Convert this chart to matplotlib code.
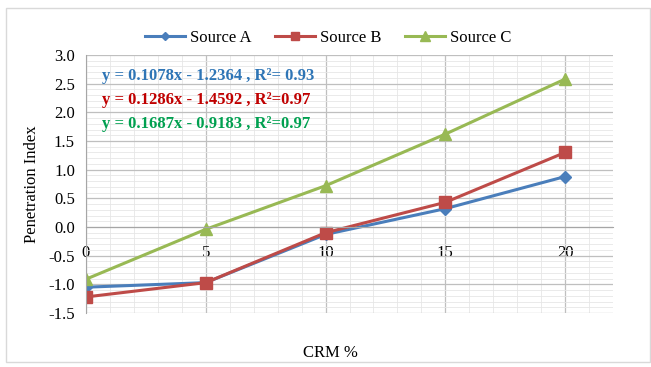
import matplotlib
matplotlib.use("Agg")
import matplotlib.pyplot as plt
from matplotlib.ticker import MultipleLocator
from matplotlib.patches import Rectangle

plt.rcParams['font.family'] = ['Liberation Serif', 'DejaVu Serif']

crm = [0, 5, 10, 15, 20]
source_a = [-1.05, -0.97, -0.13, 0.32, 0.88]
source_b = [-1.22, -0.97, -0.10, 0.43, 1.30]
source_c = [-0.91, -0.04, 0.72, 1.62, 2.58]
series_names = ["Source A", "Source B", "Source C"]
equations = ["y = 0.1078x - 1.2364 , R\u00b2= 0.93",
             "y = 0.1286x - 1.4592 , R\u00b2=0.97",
             "y = 0.1687x - 0.9183 , R\u00b2=0.97"]
y_ticks = [-1.5, -1.0, -0.5, 0.0, 0.5, 1.0, 1.5, 2.0, 2.5, 3.0]
x_ticks = [0, 5, 10, 15, 20]

fig = plt.figure(figsize=(6.51, 3.67), dpi=100)
fig.patches.append(Rectangle((6/651, 1-362/367), 644/651, (362-8)/367,
                             transform=fig.transFigure, fill=False,
                             edgecolor='#d9d9d9', linewidth=1))
ax = fig.add_axes([86/651, 1-313/367, (613-86)/651, (313-55)/367])

ax.set_xlim(0, 22)
ax.set_ylim(-1.5, 3.0)
ax.xaxis.set_major_locator(MultipleLocator(5))
ax.xaxis.set_minor_locator(MultipleLocator(1))
ax.yaxis.set_major_locator(MultipleLocator(0.5))
ax.yaxis.set_minor_locator(MultipleLocator(0.1))
ax.grid(which='major', color='#bfbfbf', linewidth=0.9)
ax.grid(which='minor', color='#e6e6e6', linewidth=0.6)
ax.set_axisbelow(True)

for s in ['top', 'right']:
    ax.spines[s].set_visible(False)
ax.spines['left'].set_color('#a6a6a6')
ax.spines['bottom'].set_position(('data', 0))
ax.spines['bottom'].set_color('#a6a6a6')

colors = ['#4a7ebb', '#be4b48', '#98b954']
markers = ['D', 's', '^']
msizes = [6, 8, 9]
data = [source_a, source_b, source_c]
for vals, name, c, m, ms in zip(data, series_names, colors, markers, msizes):
    ax.plot(crm, vals, color=c, marker=m, markersize=ms, linewidth=2.2, label=name)

ax.set_xticks(x_ticks)
ax.set_xticklabels([str(v) for v in x_ticks])
ax.set_yticks(y_ticks)
ax.set_yticklabels([f"{v:.1f}" for v in y_ticks])
ax.tick_params(which='both', length=0, labelsize=12)
ax.tick_params(axis='x', pad=13)
ax.tick_params(axis='y', pad=8)

eq_colors = ['#2e75b6', '#c00000', '#00a050']
for i, (eq, c) in enumerate(zip(equations, eq_colors)):
    ax.text(0.031, 0.918 - i * 0.093, eq, transform=ax.transAxes, color=c,
            fontsize=12, fontweight='bold', va='center', ha='left')

ax.set_ylabel("Penetration Index", fontsize=12, labelpad=6)
fig.text(330/651, 1-353/367, "CRM %", ha='center', va='center', fontsize=12)

leg = ax.legend(loc='lower center', bbox_to_anchor=(0.46, 1.0), ncol=3, frameon=False,
                fontsize=12, handlelength=2.4, columnspacing=1.4, handletextpad=0.3,
                borderaxespad=0.15, markerscale=0.75)

fig.savefig("out.png", dpi=100)
